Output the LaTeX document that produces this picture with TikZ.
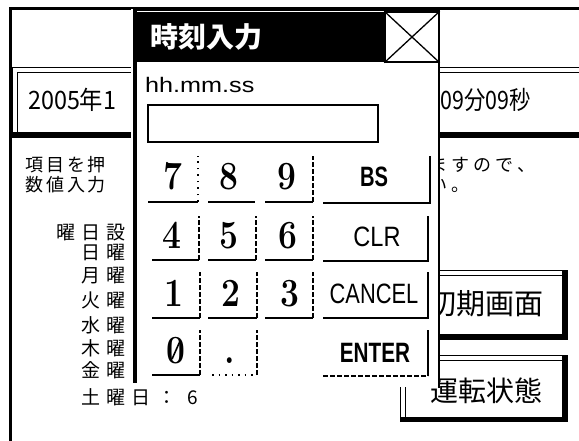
\documentclass[tikz,border=0pt]{standalone}
\usepackage{fontspec}
\newfontfamily\jpfont{Noto Sans CJK JP}
\newfontfamily\lsfont{Liberation Sans}
\newcommand\nx[1]{\scalebox{0.84}[1]{#1}}
\newcommand\keyat[5]{\node[keyshape, minimum width={#4-#2}, minimum height={#5-#3}] (#1) at ({(#2+#4)/2},{(#3+#5)/2}) {};}
\tikzset{
  jp/.style={font=\jpfont\fontsize{18}{18}\selectfont, inner sep=0, anchor=base},
  day/.style={font=\jpfont\fontsize{19}{19}\selectfont, inner sep=0, anchor=base},
  big/.style={font=\jpfont\fontsize{#1}{#1}\selectfont, inner sep=0},
  keyshape/.style={inner sep=0, outer sep=0},
  keyline/.style={line width=1.2pt},
  keydash/.style={line width=1.2pt, dash pattern=on 5pt off 2pt},
  keydot/.style={line width=1.5pt, dash pattern=on 1.5pt off 5pt},
  digit/.style={font=\fontsize{40}{40}\selectfont\bfseries, inner sep=0, anchor=base},
  fkey/.style={font=\lsfont\fontsize{28}{28}\selectfont, inner sep=0, anchor=base},
}
\begin{document}
\begin{tikzpicture}[x=1pt,y=-1pt]
\useasboundingbox (0,0) rectangle (579,441);
\clip (0,0) rectangle (579,441);
\fill[white] (0,0) rectangle (579,441);
% outer frame
\draw[line width=3pt] (10.5,445) -- (10.5,9) -- (585,9);
% date bar
\draw[line width=1pt] (12.5,138) -- (12.5,67.5) -- (585,67.5);
\draw[line width=1pt] (17.5,132) -- (17.5,72.5) -- (585,72.5);
\fill (12,132) rectangle (585,138);
\node[big=22, anchor=base west] (date1) at (28,109.6) {\scalebox{1.06}[1.15]{2005年1}};
\node[big=22, anchor=base east] (date2) at (531,109.6) {\scalebox{0.97}[1.15]{時09分09秒}};
% instruction text
\foreach \c [count=\i] in {項,目,を,押} \node[jp] (ia\i) at ({14+20.7*\i},172) {\c};
\foreach \c [count=\i] in {数,値,入,力} \node[jp] (ib\i) at ({14+20.7*\i},192) {\c};
\foreach \c [count=\i] in {ま,す,の,で,、} \node[jp] (ic\i) at ({416+22*\i},172) {\c};
\foreach \c [count=\i] in {い,。} \node[jp] (id\i) at ({416+22*\i},192) {\c};
% weekday list
\node[day] (w1a) at (66,240) {曜};
\node[day] (w1b) at (91,240) {日};
\node[day] (w1c) at (116,240) {設};
\foreach \c/\yb [count=\i] in {日/260,月/283,火/307,水/332,木/355,金/377,土/404} {
  \node[day] (d\i a) at (91,\yb) {\c};
  \node[day] (d\i b) at (116,\yb) {曜};
}
\node[day] (d7c) at (141,404) {日};
\node[day] (d7d) at (167,404) {：};
\node[day] (d7e) at (193,404) {6};
% button 初期画面
\draw[line width=1pt] (420,270.5) -- (568,270.5);
\draw[line width=1pt] (420,275.5) -- (562,275.5);
\fill (420,334) rectangle (568,340);
\fill (562,270) rectangle (568,340);
\node[big=29, anchor=base west] (b1) at (427,314) {初期画面};
% button 運転状態
\draw[line width=1pt] (400.5,422) -- (400.5,355.5) -- (568,355.5);
\draw[line width=1pt] (405.5,417) -- (405.5,360.5) -- (562,360.5);
\fill (400,417) rectangle (568,422);
\fill (562,355) rectangle (568,422);
\node[big=28, anchor=base west] (b2) at (430,401.6) {運転状態};
% popup
\fill[white] (131,9) rectangle (440,387);
\draw[line width=4pt] (135,10) -- (135,383);
\draw[line width=1.5pt] (439.2,10) -- (439.2,388);
\draw[line width=2pt] (133,10) -- (440,10);
\fill (137,12) rectangle (385,62);
\node[big=28, text=white, anchor=base west, font=\jpfont\fontsize{28}{28}\selectfont\bfseries] (title) at (150,47.6) {時刻入力};
\node[draw, line width=1.3pt, fill=white, minimum width=54, minimum height=50, inner sep=0] (close) at (412,37) {};
\draw[line width=1.3pt] (close.north west) -- (close.south east);
\draw[line width=1.3pt] (close.south west) -- (close.north east);
\node[font=\lsfont\fontsize{21}{21}\selectfont, inner sep=0, anchor=base west] (fmt) at (145,93) {\scalebox{1.2}[1]{hh.mm.ss}};
\node[draw, line width=1.3pt, minimum width=230, minimum height=37, inner sep=0] (field) at (263,123.5) {};
% keys
\keyat{k7}{148}{156}{198}{202}
\keyat{k8}{208}{156}{255}{202}
\keyat{k9}{265}{156}{313}{202}
\keyat{kbs}{323}{156}{430}{203}
\keyat{k4}{152}{216}{199}{260}
\keyat{k5}{208}{216}{256}{260}
\keyat{k6}{265}{216}{313}{260}
\keyat{kclr}{323}{216}{428}{261}
\keyat{k1}{152}{272}{200}{318}
\keyat{k2}{208}{272}{257}{318}
\keyat{k3}{265}{272}{313}{318}
\keyat{kcan}{323}{272}{428}{318}
\keyat{k0}{152}{330}{200}{375}
\keyat{kdot}{212}{330}{257}{375}
\keyat{kent}{323}{330}{428}{376}
% key edges
\foreach \k in {k7,k8,k9,k4,k5,k6,k1,k2,k3,k0} \draw[keyline] (\k.south west) -- (\k.south east);
\foreach \k in {kbs,kclr,kcan} \draw[keyline] (\k.south west) -- (\k.south east) -- (\k.north east);
\draw[keydot] (k7.south east) -- (k7.north east);
\foreach \k in {k9,k4,k5,k6,k1,k2,k3,k0,kdot} \draw[keydash] (\k.south east) -- (\k.north east);
\draw[keydot] (kdot.south west) -- (kdot.south east);
\draw[keydash] (kent.south west) -- (kent.south east);
\draw[keyline] (kent.south east) -- (kent.north east);
% key labels
\node[digit] (t7) at (173,190) {\nx{7}};
\node[digit] (t8) at (229,190) {\nx{8}};
\node[digit] (t9) at (287,190) {\nx{9}};
\node[digit] (t4) at (172,248) {\nx{4}};
\node[digit] (t5) at (229,248) {\nx{5}};
\node[digit] (t6) at (288,248) {\nx{6}};
\node[digit] (t1) at (174,306) {\nx{1}};
\node[digit] (t2) at (231,306) {\nx{2}};
\node[digit] (t3) at (290,306) {\nx{3}};
\node[digit] (t0) at (176,363) {\nx{0}};
\draw[line width=1.6pt] ([shift={(-4,9)}]t0.center) -- ([shift={(4,-9)}]t0.center);
\node[digit] (tdot) at (230,363) {\nx{.}};
\node[fkey, font=\lsfont\fontsize{28}{28}\selectfont\bfseries] (tbs) at (374,187) {\scalebox{0.72}[1]{BS}};
\node[fkey] (tclr) at (377,247) {\nx{CLR}};
\node[fkey] (tcan) at (374,303) {\scalebox{0.78}[1]{CANCEL}};
\node[fkey, font=\lsfont\fontsize{28}{28}\selectfont\bfseries] (tent) at (375,362) {\scalebox{0.74}[1]{ENTER}};
\end{tikzpicture}
\end{document}
